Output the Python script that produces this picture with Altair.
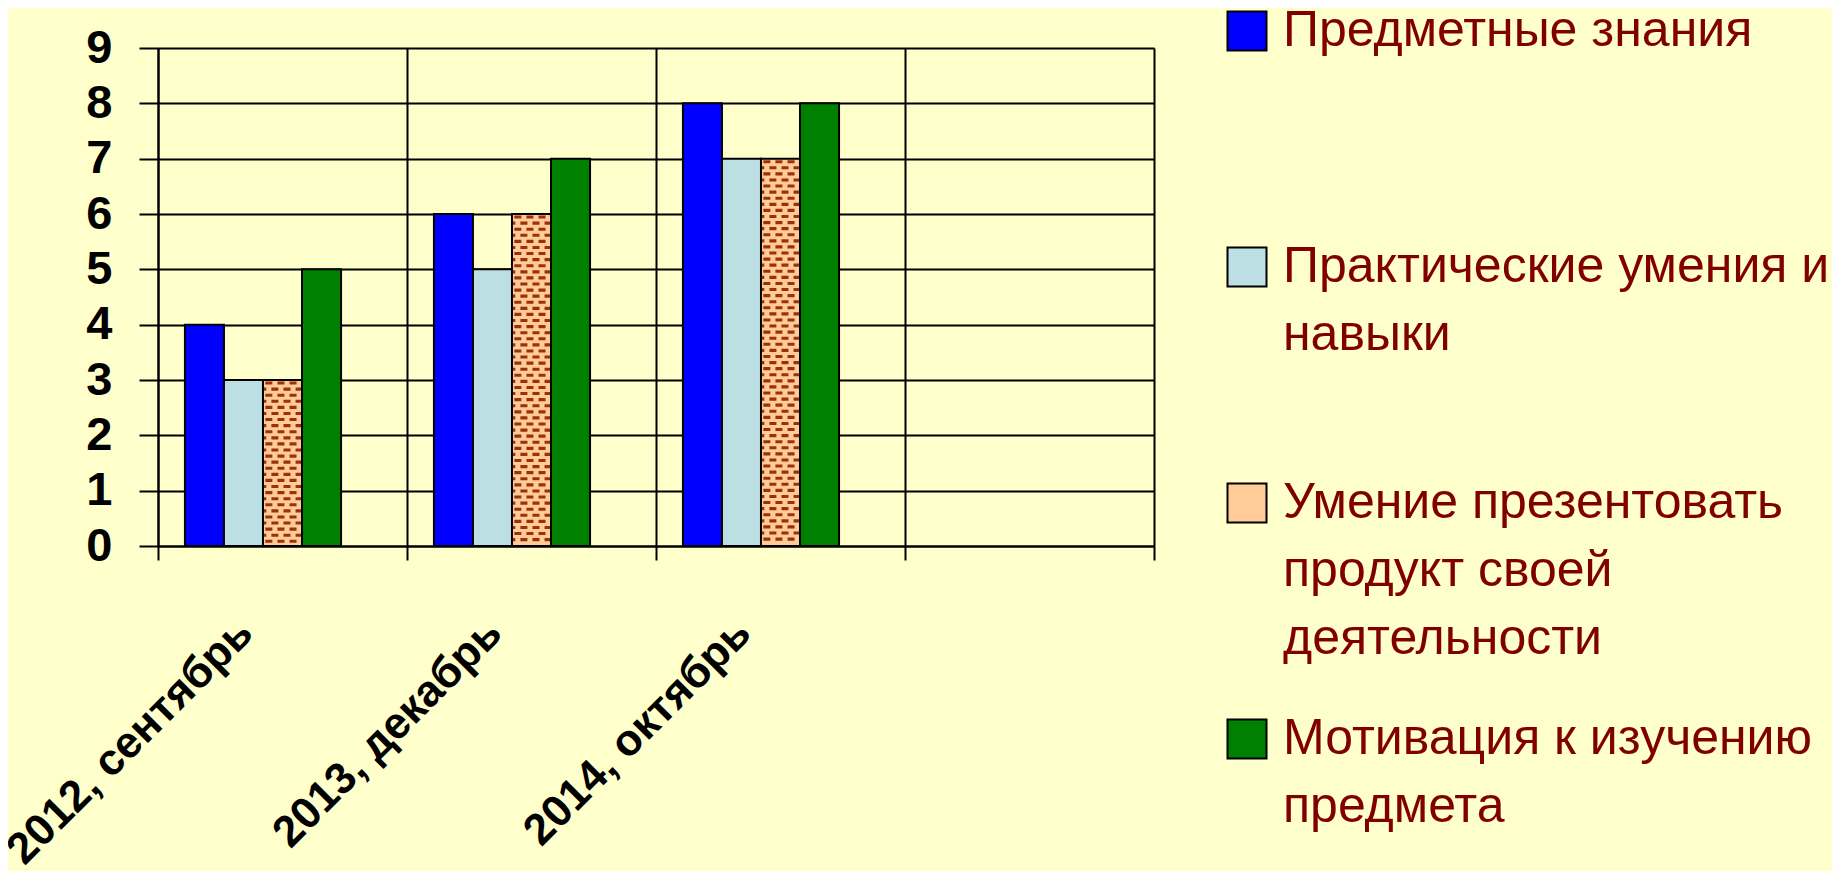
import altair as alt
import pandas as pd

# ---------------- data ----------------
categories = ["2012, сентябрь", "2013, декабрь", "2014, октябрь", " "]
series = [
    "Предметные знания",
    "Практические умения и навыки",
    "Умение презентовать продукт своей деятельности",
    "Мотивация к изучению предмета",
]
values_knowledge = [4, 6, 8]
values_practice = [3, 5, 7]
values_present = [3, 6, 7]
values_motivation = [5, 7, 8]
legend_lines = [
    ["Предметные знания"],
    ["Практические умения и", "навыки"],
    ["Умение презентовать", "продукт своей", "деятельности"],
    ["Мотивация к изучению", "предмета"],
]
y_ticks = [0, 1, 2, 3, 4, 5, 6, 7, 8, 9]

colors = ["#0000FF", "#BCDFE4", "#FFCC99", "#008000"]
pattern_color = "#9C3008"
font = "Liberation Sans"

all_values = [values_knowledge, values_practice, values_present, values_motivation]
rows = []
for s, vals in zip(series, all_values):
    for c, v in zip(categories[:3], vals):
        rows.append({"cat": c, "series": s, "value": v})
df = pd.DataFrame(rows)

# brick pattern rows for the third series (derived from its values)
step = 0.11
prow = []
for c, v in zip(categories[:3], values_present):
    n = int(v / step)
    for k in range(n):
        prow.append({"cat": c, "series": series[2], "y": v - (k + 0.5) * step,
                     "row": "a" if k % 2 == 0 else "b"})
pdf = pd.DataFrame(prow)

path_a = ("M-0.88,-0.08H-0.52V0.08H-0.88Z M-0.26,-0.08H0.1V0.08H-0.26Z "
          "M0.36,-0.08H0.72V0.08H0.36Z")
path_b = ("M-0.95,-0.08H-0.83V0.08H-0.95Z M-0.57,-0.08H-0.21V0.08H-0.57Z "
          "M0.05,-0.08H0.41V0.08H0.05Z M0.67,-0.08H0.95V0.08H0.67Z")

# legend label expression (padded to 3 lines so entries are evenly spaced)
def js_arr(lines):
    padded = lines + [""] * (3 - len(lines))
    return "[" + ",".join("'" + l + "'" for l in padded) + "]"

label_expr = "{" + ",".join("'" + s + "':" + js_arr(l) for s, l in zip(series, legend_lines)) + "}[datum.label]"

offset_domain = series + ["_gap"]

x_enc = alt.X(
    "cat:N",
    scale=alt.Scale(domain=categories, paddingInner=0, paddingOuter=0),
    axis=alt.Axis(
        title=None, labelAngle=-45, labelAlign="right", labelBaseline="middle",
        labelFont=font, labelFontSize=44, labelFontWeight="bold", labelColor="black",
        labelPadding=66, labelOffset=-37, labelLimit=1000, labelOverlap=False,
        tickBand="extent", tickSize=14, tickColor="black", tickWidth=2,
        domainColor="black", domainWidth=2,
        grid=True, gridColor="black", gridWidth=2, gridOpacity=1,
    ),
)
xoff_enc = alt.XOffset(
    "series:N",
    scale=alt.Scale(domain=offset_domain, paddingInner=0, paddingOuter=0.69),
)
y_scale = alt.Scale(domain=[0, 9], nice=False)

bars = alt.Chart(df).mark_bar(stroke="black", strokeWidth=2).encode(
    x=x_enc,
    xOffset=xoff_enc,
    y=alt.Y(
        "value:Q",
        scale=y_scale,
        axis=alt.Axis(
            title=None, values=y_ticks, format="d", labelFont=font, labelFontSize=47,
            labelFontWeight="bold", labelColor="black", labelPadding=27,
            tickSize=19, tickColor="black", tickWidth=2,
            domainColor="black", domainWidth=2,
            grid=True, gridColor="black", gridWidth=2, gridOpacity=1,
        ),
    ),
    color=alt.Color(
        "series:N",
        scale=alt.Scale(domain=series, range=colors),
        legend=alt.Legend(
            title=None, orient="none", legendX=1064, legendY=-42, direction="vertical",
            symbolType="square", symbolSize=1521, symbolStrokeColor="black",
            symbolStrokeWidth=2, symbolOpacity=1,
            labelFont=font, labelFontSize=50, labelColor="#800000",
            labelLimit=0, labelOffset=11, rowPadding=50, padding=0,
            labelExpr=label_expr,
        ),
    ),
)

pattern = alt.Chart(pdf).mark_point(
    filled=True, size=1521, color=pattern_color, opacity=1
).encode(
    x=alt.X("cat:N"),
    xOffset=alt.XOffset("series:N"),
    y=alt.Y("y:Q"),
    shape=alt.Shape("row:N", scale=alt.Scale(domain=["a", "b"], range=[path_a, path_b]), legend=None),
)

chart = (
    alt.layer(bars, pattern)
    .properties(
        width=996, height=498,
        padding={"left": 150, "top": 40, "right": 678, "bottom": 325},
        autosize=alt.AutoSizeParams(type="none"),
        background="#FFFFCC",
    )
    .configure_view(strokeWidth=0)
    .configure(style={"guide-label": {"lineHeight": 68}})
)

chart.save("out.html", embed_options={"renderer": "svg", "actions": False})
